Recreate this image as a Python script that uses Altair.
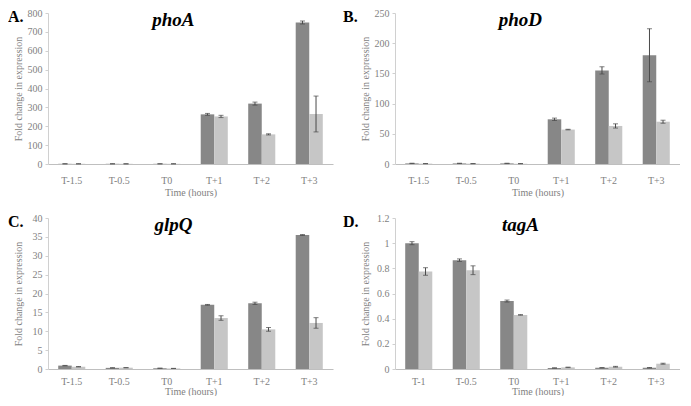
import altair as alt
import pandas as pd

# ---------------- data ----------------
series = ["a", "b"]  # dark bars, light bars

# A. phoA
a_cats = ["T-1.5", "T-0.5", "T0", "T+1", "T+2", "T+3"]
a_dark = [1.0, 1.0, 1.0, 263, 320, 750]
a_dark_err = [0.5, 0.5, 0.5, 5, 8, 8]
a_light = [1.0, 1.0, 1.0, 252, 157, 265]
a_light_err = [0.5, 0.5, 0.5, 6, 3, 95]

# B. phoD
b_cats = ["T-1.5", "T-0.5", "T0", "T+1", "T+2", "T+3"]
b_dark = [1.0, 1.0, 1.0, 74, 155, 180]
b_dark_err = [0.3, 0.3, 0.3, 2, 6, 44]
b_light = [0.6, 0.6, 0.6, 57, 63, 70]
b_light_err = [0.2, 0.2, 0.2, 0.5, 3.5, 2.5]

# C. glpQ
c_cats = ["T-1.5", "T-0.5", "T0", "T+1", "T+2", "T+3"]
c_dark = [0.9, 0.3, 0.2, 17.0, 17.4, 35.5]
c_dark_err = [0.05, 0.03, 0.02, 0.1, 0.3, 0.1]
c_light = [0.6, 0.35, 0.15, 13.5, 10.5, 12.2]
c_light_err = [0.05, 0.03, 0.02, 0.6, 0.5, 1.4]

# D. tagA
d_cats = ["T-1", "T-0.5", "T0", "T+1", "T+2", "T+3"]
d_dark = [1.0, 0.865, 0.54, 0.008, 0.01, 0.01]
d_dark_err = [0.012, 0.01, 0.008, 0.001, 0.001, 0.002]
d_light = [0.775, 0.785, 0.43, 0.013, 0.018, 0.042]
d_light_err = [0.03, 0.035, 0.002, 0.002, 0.003, 0.004]

a_ticks = [0, 100, 200, 300, 400, 500, 600, 700, 800]
b_ticks = [0, 50, 100, 150, 200, 250]
c_ticks = [0, 5, 10, 15, 20, 25, 30, 35, 40]
d_ticks = [0, 0.2, 0.4, 0.6, 0.8, 1.0, 1.2]

# ---------------- style ----------------
FONT = "Liberation Serif"
DARK = "#878787"
LIGHT = "#c6c6c6"
ERR = "#4a4a4a"
GRAY = "#7f7f7f"
W = 285
H = 151
YTITLE = "Fold change in expression"


def make_df(cats, dark, dark_err, light, light_err):
    rows = []
    for i, c in enumerate(cats):
        rows.append(dict(cat=c, series="a", value=dark[i],
                         lo=dark[i] - dark_err[i], hi=dark[i] + dark_err[i]))
        rows.append(dict(cat=c, series="b", value=light[i],
                         lo=light[i] - light_err[i], hi=light[i] + light_err[i]))
    return pd.DataFrame(rows)


def panel(df, cats, letter, gene, ymax, yvals, letter_x, lpad, tpad, fmt):
    xaxis = alt.Axis(labelAngle=0, tickSize=0, labelPadding=lpad, titlePadding=tpad,
                     domainColor="#bfbfbf", labelColor=GRAY, titleColor=GRAY,
                     labelFont=FONT, titleFont=FONT, labelFontSize=10,
                     titleFontSize=10, titleFontWeight="normal")
    yaxis = alt.Axis(values=[float(v) for v in yvals], format=fmt, tickSize=3,
                     labelPadding=3, tickCount=len(yvals),
                     titlePadding=4, minExtent=21, maxExtent=21,
                     labelOverlap=False, labelBound=False, labelFlush=False,
                     domainColor="#d0d0d0", tickColor="#d0d0d0",
                     labelColor=GRAY, titleColor=GRAY, grid=False,
                     labelFont=FONT, titleFont=FONT, labelFontSize=10,
                     titleFontSize=10, titleFontWeight="normal")
    x = alt.X("cat:N", sort=cats, title="Time (hours)",
              scale=alt.Scale(paddingInner=0.43, paddingOuter=0.215), axis=xaxis)
    xo = alt.XOffset("series:N", sort=series,
                     scale=alt.Scale(paddingInner=0, paddingOuter=0))
    yscale = alt.Scale(domain=[0, ymax * 1.0001], nice=False, zero=True)
    base = alt.Chart(df)
    bars = base.mark_bar().encode(
        x=x, xOffset=xo,
        y=alt.Y("value:Q", title=YTITLE, scale=yscale, axis=yaxis),
        color=alt.Color("series:N", scale=alt.Scale(domain=series, range=[DARK, LIGHT]),
                        legend=None),
    )
    rules = base.mark_rule(color=ERR, strokeWidth=1).encode(
        x=x, xOffset=xo,
        y=alt.Y("lo:Q", title=YTITLE, scale=yscale, axis=yaxis), y2="hi:Q",
    )
    cap_hi = base.mark_tick(color=ERR, size=5, thickness=1).encode(
        x=x, xOffset=xo, y=alt.Y("hi:Q", title=YTITLE, scale=yscale, axis=yaxis))
    cap_lo = base.mark_tick(color=ERR, size=5, thickness=1).encode(
        x=x, xOffset=xo, y=alt.Y("lo:Q", title=YTITLE, scale=yscale, axis=yaxis))
    letter_t = alt.Chart(alt.Data(values=[{"t": letter}])).mark_text(
        font=FONT, fontSize=16, fontWeight="bold", align="left", baseline="middle",
        color="black").encode(x=alt.value(letter_x), y=alt.value(4), text="t:N")
    gene_t = alt.Chart(alt.Data(values=[{"t": gene}])).mark_text(
        font=FONT, fontSize=19, fontWeight="bold", fontStyle="italic",
        align="center", baseline="middle", color="black").encode(
        x=alt.value(W * 0.44), y=alt.value(7), text="t:N")
    return alt.layer(bars, rules, cap_hi, cap_lo, letter_t, gene_t).properties(
        width=W, height=H)


pA = panel(make_df(a_cats, a_dark, a_dark_err, a_light, a_light_err), a_cats,
           "A.", "phoA", 800, a_ticks, -40, 11, 2, "d")
pB = panel(make_df(b_cats, b_dark, b_dark_err, b_light, b_light_err), b_cats,
           "B.", "phoD", 250, b_ticks, -52, 11, 2, "d")
pC = panel(make_df(c_cats, c_dark, c_dark_err, c_light, c_light_err), c_cats,
           "C.", "glpQ", 40, c_ticks, -40, 7, 0, "d")
pD = panel(make_df(d_cats, d_dark, d_dark_err, d_light, d_light_err), d_cats,
           "D.", "tagA", 1.2, d_ticks, -52, 7, 0, "~r")

chart = alt.concat(pA, pB, pC, pD, columns=2, spacing=alt.RowColnumber(row=16, column=10)
                   ) if hasattr(alt, "RowColnumber") else alt.concat(
    pA, pB, pC, pD, columns=2, spacing=12)

chart = chart.resolve_scale(x="independent", y="independent").properties(
    padding=0, background="white"
).configure_view(stroke=None).configure_axis(
    labelFont=FONT, titleFont=FONT, labelFontSize=10, titleFontSize=10,
    titleFontWeight="normal", grid=False
)

chart.save("out.html", embed_options={"renderer": "svg", "actions": False})
